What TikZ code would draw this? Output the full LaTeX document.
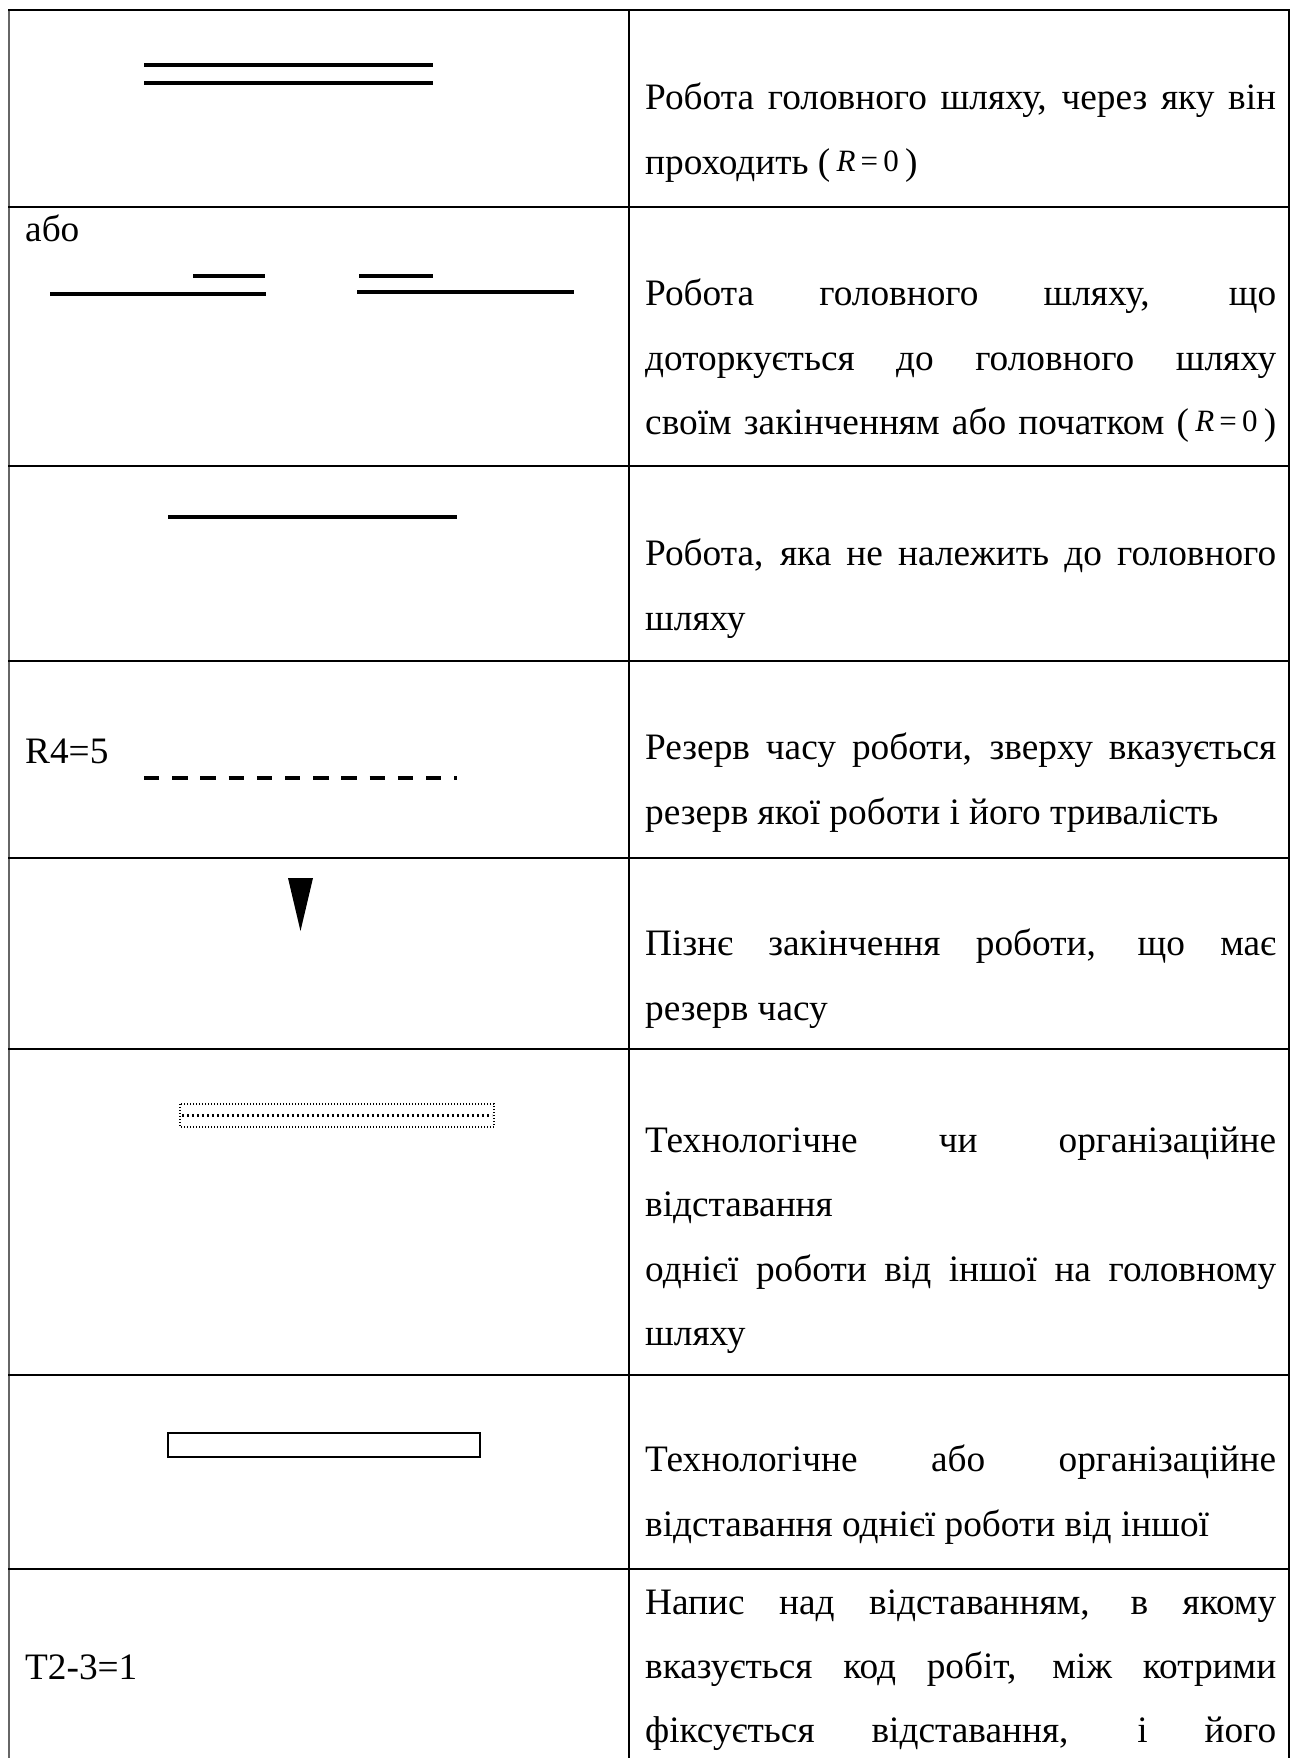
\documentclass[tikz,border=0pt]{standalone}
\usepackage{fontspec}
\setmainfont{Liberation Serif}
\usetikzlibrary{positioning}

% justified line of the right column
\newcommand{\jl}[1]{\makebox[631pt][s]{#1}}
% (R = 0), set smaller and raised
\newcommand{\rzero}{(\,\raisebox{3pt}{\fontsize{31}{31}\selectfont\textit{R}\,=\,0}\,)}

\begin{document}
\begin{tikzpicture}[%
    x=1pt, y=-1pt,
    txt/.style={anchor=base west, inner sep=0pt, font=\fontsize{37.3}{44}\selectfont},
    grid/.style={line width=2.4pt},
    work/.style={line width=3.3pt},
    free/.style={line width=4pt},
    reserve/.style={line width=3.3pt, dash pattern=on 15.3pt off 12.9pt},
    lagdots/.style={line width=1.2pt, dash pattern=on 1pt off 2pt},
    lagmid/.style={line width=2.4pt, dash pattern=on 2.4pt off 2.6pt},
    lagbox/.style={line width=2.5pt}
    ]

    \useasboundingbox (0,0) rectangle (1296,1758);

    % table
    \draw[line width=2pt, black!60] (9.3,10) -- (9.3,1758);
    \draw[grid] (8.3,10) -- (1290.2,10);
    \draw[grid] (629,10) -- (629,1758);
    \draw[grid] (1289,10) -- (1289,1758);
    \foreach \y in {207,466,661,858,1049,1375,1569}
        \draw[grid] (8.3,\y) -- (1290.2,\y);

    % symbols
    \draw[work] (144,65) -- (433,65);
    \draw[work] (144,83) -- (433,83);

    \node[txt] (abo) at (25,241) {або};
    \draw[work] (50,294) -- (266,294);
    \draw[work] (193,276) -- (265,276);
    \draw[work] (359,276) -- (433,276);
    \draw[work] (357,292) -- (574,292);

    \draw[free] (168,517) -- (457,517);

    \node[txt] (r4) at (25,763) {R4=5};
    \draw[reserve] (144,778) -- (457,778);

    \fill (288,878) -- (313,878) -- (300.5,931) -- cycle;

    \draw[lagdots] (180,1104) rectangle (494,1127);
    \draw[lagmid] (182,1115.5) -- (492,1115.5);

    \draw[lagbox] (168,1433) rectangle (480,1457);

    \node[txt] (t23) at (25,1679) {T2-3=1};

    % descriptions
    \node[txt] (d1a) at (645,110) {\jl{Робота головного шляху, через яку він}};
    \node[txt] (d1b) at (645,174.4) {проходить \rzero};

    \node[txt] (d2a) at (645,305.5) {\jl{Робота головного шляху, що}};
    \node[txt] (d2b) at (645,370) {\jl{доторкується до головного шляху}};
    \node[txt] (d2c) at (645,434.4) {\jl{своїм закінченням або початком \rzero}};

    \node[txt] (d3a) at (645,565.6) {\jl{Робота, яка не належить до головного}};
    \node[txt] (d3b) at (645,630) {шляху};

    \node[txt] (d4a) at (645,759.5) {\jl{Резерв часу роботи, зверху вказується}};
    \node[txt] (d4b) at (645,824) {резерв якої роботи і його тривалість};

    \node[txt] (d5a) at (645,955.7) {\jl{Пізнє закінчення роботи, що має}};
    \node[txt] (d5b) at (645,1020) {резерв часу};

    \node[txt] (d6a) at (645,1152) {\jl{Технологічне чи організаційне}};
    \node[txt] (d6b) at (645,1216) {відставання};
    \node[txt] (d6c) at (645,1281) {\jl{однієї роботи від іншої на головному}};
    \node[txt] (d6d) at (645,1345) {шляху};

    \node[txt] (d7a) at (645,1471.4) {\jl{Технологічне або організаційне}};
    \node[txt] (d7b) at (645,1536) {відставання однієї роботи від іншої};

    \node[txt] (d8a) at (645,1614) {\jl{Напис над відставанням, в якому}};
    \node[txt] (d8b) at (645,1678) {\jl{вказується код робіт, між котрими}};
    \node[txt] (d8c) at (645,1742.6) {\jl{фіксується відставання, і його}};

\end{tikzpicture}
\end{document}
